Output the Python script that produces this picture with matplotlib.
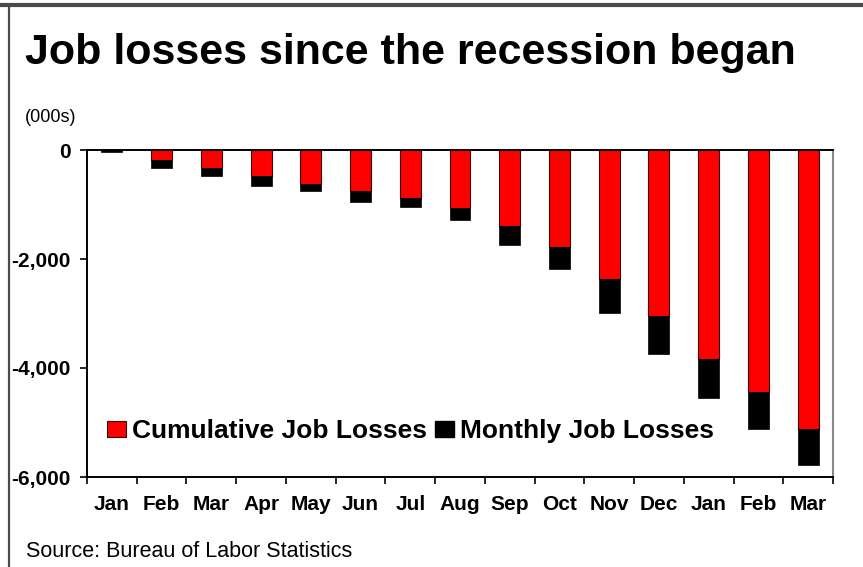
import numpy as np
import matplotlib
matplotlib.use("Agg")
import matplotlib.pyplot as plt
from matplotlib.patches import Patch
from matplotlib.lines import Line2D
from matplotlib.ticker import FuncFormatter, FixedLocator

plt.rcParams['font.family'] = ['Liberation Sans', 'DejaVu Sans']

# Months since the recession began (thousands of jobs)
months = ['Jan', 'Feb', 'Mar', 'Apr', 'May', 'Jun', 'Jul', 'Aug',
          'Sep', 'Oct', 'Nov', 'Dec', 'Jan', 'Feb', 'Mar']
cumulative = [0, -185, -325, -472, -619, -754, -888, -1072,
              -1397, -1777, -2358, -3051, -3829, -4443, -5116]
monthly = [-40, -140, -147, -195, -135, -196, -154, -215,
           -349, -398, -632, -686, -717, -673, -656]
y_ticks = [0, -2000, -4000, -6000]

RED = '#ff0000'
W, H = 863, 567

fig = plt.figure(figsize=(W / 100, H / 100), dpi=100)
fig.patch.set_facecolor('white')

ax = fig.add_axes([87 / W, 1 - 477 / H, (833 - 87) / W, (477 - 150) / H])

x = np.arange(len(months))
ax.bar(x, cumulative, width=0.42, color=RED, edgecolor='#3a0000',
       linewidth=0.8, zorder=2)
ax.bar(x, monthly, width=0.42, bottom=cumulative, color='black',
       edgecolor='black', linewidth=0.5, zorder=3)

ax.set_xlim(-0.5, len(months) - 0.5)
ax.set_ylim(-6000, 0)

# y axis
ax.set_yticks(y_ticks)
ax.yaxis.set_major_formatter(FuncFormatter(lambda v, p: f'{int(v):,}'))
ax.tick_params(axis='y', length=5, width=1.2, pad=7, labelsize=15)

# x axis: labels at the bar centres, tick marks between the bars
ax.set_xticks(x)
ax.set_xticklabels(months)
ax.xaxis.set_minor_locator(FixedLocator(np.arange(-0.5, len(months), 1.0)))
ax.tick_params(axis='x', which='major', length=0, pad=13, labelsize=15)
ax.tick_params(axis='x', which='minor', length=5, width=1.2, direction='out')

for lbl in ax.get_xticklabels() + ax.get_yticklabels():
    lbl.set_fontweight('bold')

for side in ['left', 'bottom', 'top']:
    ax.spines[side].set_color('black')
    ax.spines[side].set_linewidth(1.4)
ax.spines['right'].set_color('#8a8a8a')
ax.spines['right'].set_linewidth(1.5)

handles = [Patch(facecolor=RED, edgecolor='#3a0000', linewidth=0.8),
           Patch(facecolor='black', edgecolor='black')]
ax.legend(handles, ['Cumulative Job Losses', 'Monthly Job Losses'],
          ncol=2, frameon=False, prop={'weight': 'bold', 'size': 19},
          handlelength=0.72, handleheight=0.57, handletextpad=0.22,
          columnspacing=0.3, borderpad=0, borderaxespad=0,
          loc='center left', bbox_to_anchor=(107 / W, 1 - 431 / H),
          bbox_transform=fig.transFigure)

# Headline, unit note and source line
fig.text(25 / W, 1 - 64 / H, 'Job losses since the recession began',
         fontsize=31, fontweight='bold', ha='left', va='baseline')
fig.text(25 / W, 1 - 122 / H, '(000s)', fontsize=13, ha='left', va='baseline')
fig.text(26 / W, 1 - 557 / H, 'Source: Bureau of Labor Statistics',
         fontsize=15.5, ha='left', va='baseline')

# Frame lines along the top and left edges
fig.add_artist(Line2D([0, 1], [1 - 5 / H, 1 - 5 / H], color='#4a4a4a',
                      lw=3, transform=fig.transFigure))
fig.add_artist(Line2D([9 / W, 9 / W], [0, 1 - 5 / H], color='#4a4a4a',
                      lw=1.6, transform=fig.transFigure))

fig.savefig('out.png', dpi=100)
